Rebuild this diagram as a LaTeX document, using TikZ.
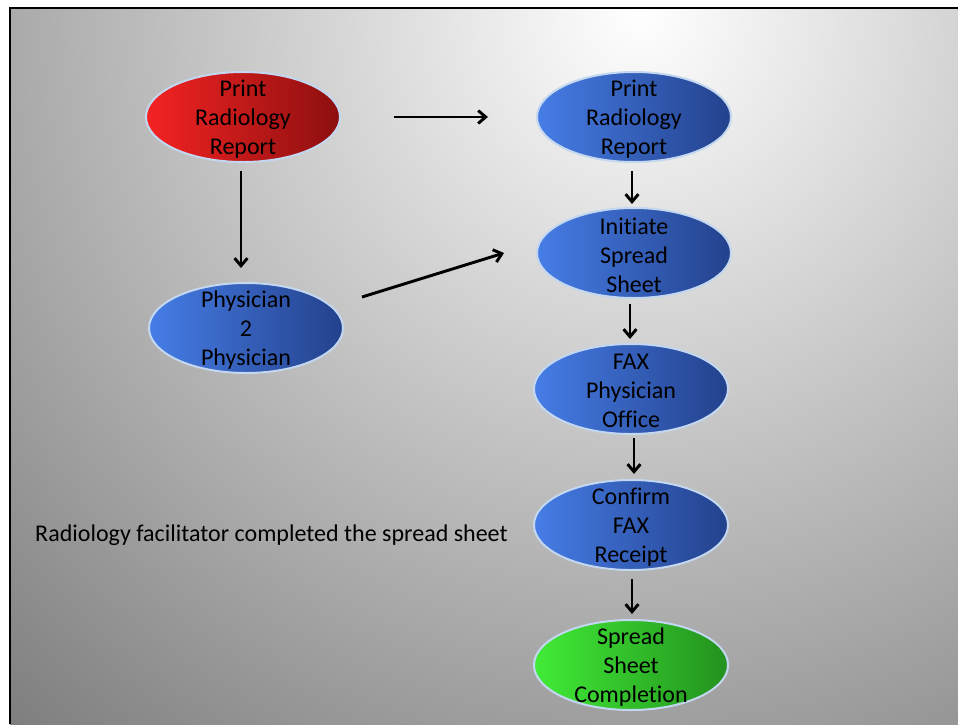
\documentclass[tikz,border=0pt]{standalone}
\usepackage{fontspec}
\setmainfont{Carlito}[Ligatures={NoCommon}]
\usepackage{tikz}
\usetikzlibrary{shapes.geometric,arrows.meta}

\definecolor{redL}{RGB}{245,35,35}
\definecolor{redR}{RGB}{140,15,15}
\definecolor{blueL}{RGB}{70,125,230}
\definecolor{blueR}{RGB}{35,65,140}
\definecolor{greenL}{RGB}{65,235,55}
\definecolor{greenR}{RGB}{35,145,30}
\definecolor{rim}{RGB}{195,215,240}
\newcommand{\flowfont}{\fontsize{20.5pt}{24.7pt}\selectfont}

\begin{document}
\begin{tikzpicture}[x=0.03cm, y=-0.03cm,
  oval/.style={ellipse, draw=rim, line width=1.7pt, minimum width=5.82cm, minimum height=2.7cm, inner sep=0pt},
  redoval/.style={oval, left color=redL, right color=redR},
  blueoval/.style={oval, left color=blueL, right color=blueR},
  greenoval/.style={oval, left color=greenL, right color=greenR},
  txt/.style={align=center, font=\flowfont, text=black, inner sep=0pt},
  intxt/.style={txt, yshift=-1.7pt},
  flow/.style={line width=2.5pt, -{Straight Barb[length=6.5pt,width=11pt,line width=2.5pt]}}]
\useasboundingbox (0,0) rectangle (958,724);
\fill[white] (0,0) rectangle (958,724);
% background
\begin{scope}
\clip (10,8) rectangle (958,724);
\shade[inner color=white, outer color=black!53] (640,10) circle (1000);
\end{scope}
\draw[line width=2.2pt] (958,8) -- (10,8) -- (10,724);
% left column
\node[redoval, label={[intxt]center:Print\\Radiology\\Report}] (PR) at (243,117) {};
\node[blueoval, label={[intxt]center:Physician\\2\\Physician}] (PP) at (246,328) {};
% right column
\node[blueoval, label={[intxt]center:Print\\Radiology\\Report}] (PB) at (634,117) {};
\node[blueoval, label={[intxt]center:Initiate\\Spread\\Sheet}] (IS) at (634,253) {};
\node[blueoval, label={[intxt]center:FAX\\Physician\\Office}] (FX) at (631,389) {};
\node[blueoval, label={[intxt]center:Confirm\\FAX\\Receipt}] (CF) at (631,525) {};
\node[greenoval, label={[intxt]center:Spread\\Sheet\\Completion}] (SC) at (631,665) {};
\node[txt, anchor=west] (note) at (35,535) {Radiology facilitator completed the spread sheet};
% arrows
\draw[flow] ([shift={(53,0)}]PR.east) -- ([shift={(-48,0)}]PB.west);
\draw[flow] ([shift={(-2,8)}]PR.south) -- ([shift={(-5,-14)}]PP.north);
\draw[flow] ([shift={(18,-31)}]PP.east) -- ([shift={(-32,0)}]IS.west);
\draw[flow] ([shift={(-2,8)}]PB.south) -- ([shift={(-2,-3)}]IS.north);
\draw[flow] ([shift={(-4,5)}]IS.south) -- ([shift={(-1,-4)}]FX.north);
\draw[flow] ([shift={(3,3)}]FX.south) -- ([shift={(3,-5)}]CF.north);
\draw[flow] ([shift={(1,8)}]CF.south) -- ([shift={(1,-5)}]SC.north);
\end{tikzpicture}
\end{document}
